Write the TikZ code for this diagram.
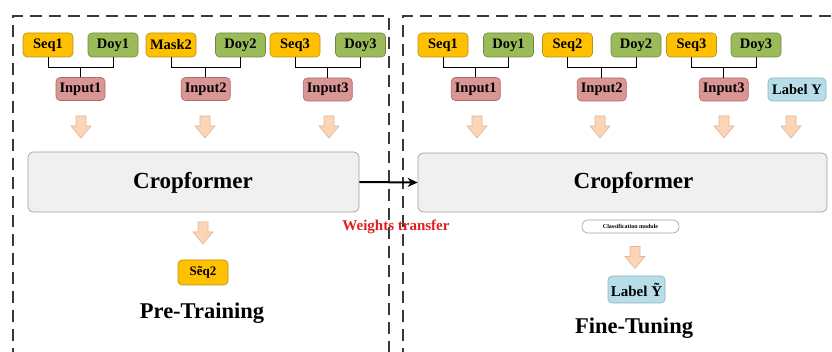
\documentclass[tikz,border=0pt]{standalone}
\usepackage{fontspec}
\setmainfont{Liberation Serif}
\usetikzlibrary{arrows.meta}

\definecolor{seqfill}{HTML}{FFC000}
\definecolor{seqline}{HTML}{B8901A}
\definecolor{doyfill}{HTML}{9BBB59}
\definecolor{doyline}{HTML}{71893F}
\definecolor{inpfill}{HTML}{D99694}
\definecolor{inpline}{HTML}{B06A68}
\definecolor{labfill}{HTML}{B7DEE8}
\definecolor{labline}{HTML}{8AAFBC}
\definecolor{cffill}{HTML}{F0F0F0}
\definecolor{cfline}{HTML}{A0A0A0}
\definecolor{arrfill}{HTML}{FBD5B5}
\definecolor{arrline}{HTML}{E2B595}
\definecolor{framecol}{HTML}{3A3A3A}
\definecolor{wtred}{HTML}{E02020}

\tikzset{
  tag/.style={draw, rounded corners=4pt, line width=0.6pt, minimum height=24pt,
    minimum width=50pt, inner sep=1pt, font=\bfseries\fontsize{14.5}{14.5}\selectfont},
  seqbox/.style={tag, fill=seqfill, draw=seqline},
  doybox/.style={tag, fill=doyfill, draw=doyline},
  inpbox/.style={tag, fill=inpfill, draw=inpline, minimum height=23pt, minimum width=49pt},
  labbox/.style={tag, fill=labfill, draw=labline},
  cfbox/.style={draw=cfline, fill=cffill, rounded corners=5pt, line width=0.7pt},
  cftext/.style={font=\bfseries\fontsize{23}{23}\selectfont},
  stagetext/.style={font=\bfseries\fontsize{22.5}{22.5}\selectfont},
  % hollow block arrow pointing down, centred on the pic position
  downarrow/.pic={
    \draw[draw=arrline, fill=arrfill, line width=0.6pt, line join=miter]
      (-5,-11) -- (5,-11) -- (5,-1) -- (10,-1) -- (0,11) -- (-10,-1) -- (-5,-1) -- cycle;
  },
  link/.style={line width=1pt, black},
  frame/.style={draw=framecol, line width=1.5pt, dash pattern=on 12pt off 7pt},
}

\begin{document}
\begin{tikzpicture}[x=1pt,y=-1pt]
\useasboundingbox (0,0) rectangle (832,352);
\begin{scope}
\clip (0,0) rectangle (832,352);
% stage frames
\draw[frame] (13,360) -- (13,16) -- (389,16) -- (389,360);
\draw[frame] (403,360) -- (403,16) -- (845,16);
\end{scope}

% ---------- pre-training ----------
\node[seqbox] (ls1) at (48,45) {Seq1};
\node[doybox] (ld1) at (113,45) {Doy1};
\node[seqbox] (lm2) at (171,45) {Mask2};
\node[doybox] (ld2) at (240.5,45) {Doy2};
\node[seqbox] (ls3) at (295,45) {Seq3};
\node[doybox] (ld3) at (360.5,45) {Doy3};

\node[inpbox] (li1) at (80.5,89) {Input1};
\node[inpbox] (li2) at (205.75,89) {Input2};
\node[inpbox] (li3) at (327.75,89.5) {Input3};

\foreach \s/\d/\i in {ls1/ld1/li1, lm2/ld2/li2, ls3/ld3/li3}{
  \draw[link] (\s.south) -- ++(0,10) -| (\d.south);
  \draw[link] (\i.north) -- (\i.north |- 0,67);
}

\pic at (81,127) {downarrow};
\pic at (205,127) {downarrow};
\pic at (329,127) {downarrow};

\node[cfbox, minimum width=331pt, minimum height=60pt] (cf1) at (193.5,182) {};
\node[cftext] (cf1t) at (193,183) {Cropformer};

\pic at (203,233) {downarrow};
\node[seqbox, minimum height=25pt, font=\bfseries\fontsize{13}{13}\selectfont] (seqt) at (203,272.5) {S\~{e}q2};
\node[stagetext] (pre) at (202,313) {Pre-Training};

% ---------- fine-tuning ----------
\node[seqbox] (rs1) at (443,45) {Seq1};
\node[doybox] (rd1) at (508.5,45) {Doy1};
\node[seqbox] (rs2) at (567.5,45) {Seq2};
\node[doybox] (rd2) at (636,45) {Doy2};
\node[seqbox] (rs3) at (691.5,45) {Seq3};
\node[doybox] (rd3) at (756,45) {Doy3};

\node[inpbox] (ri1) at (475.75,89) {Input1};
\node[inpbox] (ri2) at (601.75,89.5) {Input2};
\node[inpbox] (ri3) at (723.75,89.5) {Input3};
\node[labbox, minimum width=58pt, minimum height=23pt] (rly) at (797,89.5) {Label Y};

\foreach \s/\d/\i in {rs1/rd1/ri1, rs2/rd2/ri2, rs3/rd3/ri3}{
  \draw[link] (\s.south) -- ++(0,10) -| (\d.south);
  \draw[link] (\i.north) -- (\i.north |- 0,67);
}

\pic at (477,127) {downarrow};
\pic at (600,127) {downarrow};
\pic at (724,127) {downarrow};
\pic at (791,127) {downarrow};

\node[cfbox, minimum width=409pt, minimum height=59pt] (cf2) at (622.5,182.5) {};
\node[cftext] (cf2t) at (633.5,183) {Cropformer};

\node[draw=cfline, fill=white, rounded corners=6pt, line width=0.6pt,
  minimum width=97pt, minimum height=13pt, inner sep=0pt,
  font=\bfseries\fontsize{6}{6}\selectfont] (cls) at (630.5,226.5) {Classification module};

\pic at (635,257.5) {downarrow};
\node[labbox, minimum width=57pt, minimum height=27pt, font=\bfseries\fontsize{15}{15}\selectfont] (rlt) at (636.5,289.5) {Label \~{Y}};
\node[stagetext] (fine) at (634,328) {Fine-Tuning};

% ---------- weight transfer ----------
\draw[line width=2pt, -{Stealth[length=10pt,width=9pt]}] (cf1.east) -- (cf2.west);
\node[text=wtred, font=\bfseries\fontsize{15}{15}\selectfont] (wt) at (396,227) {Weights transfer};
\end{tikzpicture}
\end{document}
